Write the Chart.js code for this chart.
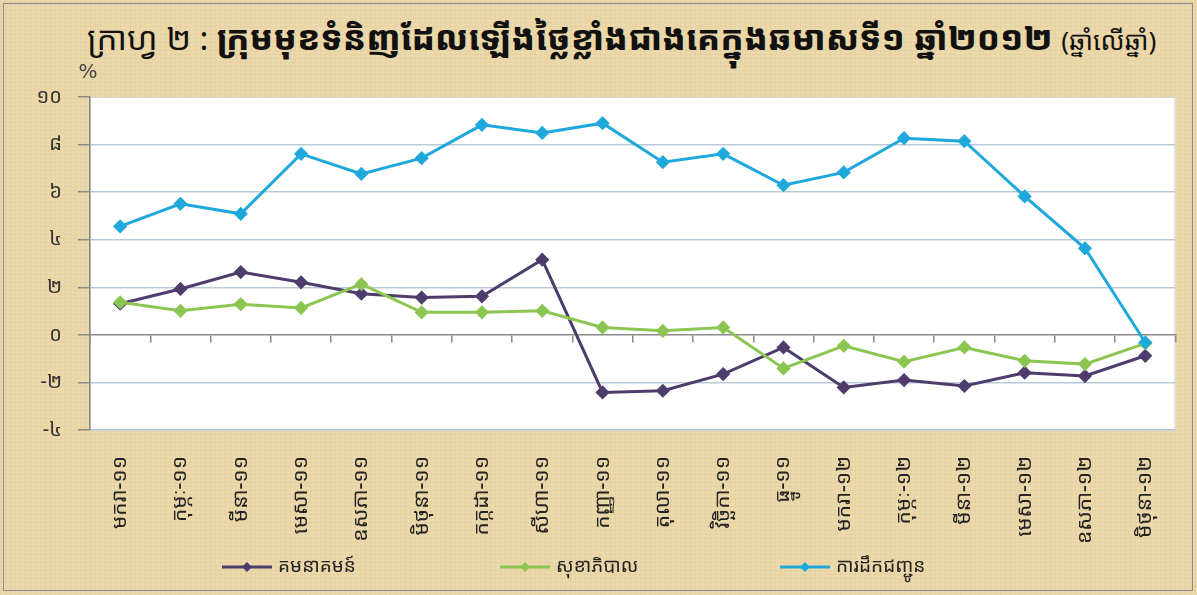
<!DOCTYPE html>
<html>
<head>
<meta charset="utf-8">
<script src="https://cdn.jsdelivr.net/npm/chart.js@4.4.1/dist/chart.umd.min.js"></script>
<style>
  html, body { margin: 0; padding: 0; }
  body {
    width: 1197px; height: 595px; overflow: hidden; position: relative;
    background-color: #ecd9ab;
    background-image:
      repeating-linear-gradient(0deg, rgba(160,120,50,0.07) 0px, rgba(160,120,50,0.07) 1px, transparent 1px, transparent 4px),
      repeating-linear-gradient(90deg, rgba(160,120,50,0.06) 0px, rgba(160,120,50,0.06) 1px, transparent 1px, transparent 5px);
  }
  #frame {
    position: absolute; left: 3px; top: 3px; width: 1190px; height: 588px;
    border: 1px solid #8d8d8d; box-sizing: border-box;
  }
  #title {
    position: absolute; left: 87px; top: 14px; white-space: nowrap;
    font-family: "Noto Sans Khmer", "Khmer OS", "Noto Sans", sans-serif;
    font-size: 33px; color: #111;
  }
  #title b { font-weight: 800; font-size: 34px; }
  #title .s { font-size: 26px; }
  canvas { position: absolute; left: 0; top: 0; }
</style>
</head>
<body>
<div id="frame"></div>
<div id="title">ក្រាហ្វ ២ : <b>ក្រុមមុខទំនិញដែលឡើងថ្លៃខ្លាំងជាងគេក្នុងឆមាសទី១ ឆ្នាំ២០១២</b> <span class="s">(ឆ្នាំលើឆ្នាំ)</span></div>
<canvas id="lineChart" width="1197" height="595"></canvas>
<script>
const KHMER_FONT = '"Noto Sans Khmer", "Khmer OS", "Noto Sans", sans-serif';

const months = [
  'មករា-១១', 'កុម្ភៈ-១១', 'មីនា-១១', 'មេសា-១១', 'ឧសភា-១១', 'មិថុនា-១១',
  'កក្កដា-១១', 'សីហា-១១', 'កញ្ញា-១១', 'តុលា-១១', 'វិច្ឆិកា-១១', 'ធ្នូ-១១',
  'មករា-១២', 'កុម្ភៈ-១២', 'មីនា-១២', 'មេសា-១២', 'ឧសភា-១២', 'មិថុនា-១២'
];

const series_names = ['គមនាគមន៍', 'សុខាភិបាល', 'ការដឹកជញ្ជូន'];

const communication = [1.31, 1.93, 2.64, 2.21, 1.73, 1.57, 1.62, 3.16, -2.42,
  -2.35, -1.65, -0.53, -2.21, -1.90, -2.15, -1.59, -1.73, -0.88];
const health = [1.37, 1.01, 1.29, 1.13, 2.13, 0.95, 0.95, 1.01, 0.31,
  0.17, 0.31, -1.41, -0.46, -1.13, -0.53, -1.09, -1.23, -0.36];
const transport = [4.56, 5.51, 5.09, 7.61, 6.77, 7.43, 8.83, 8.49, 8.90,
  7.26, 7.61, 6.29, 6.83, 8.27, 8.14, 5.82, 3.64, -0.32];

const y_min = -4;
const y_max = 10;
const y_step = 2;

const colors = ['#4d3c6c', '#8cc652', '#1ea8dc'];

function khmer_digits(v) {
  return String(v).replace(/[0-9]/g, d => '០១២៣៤៥៦៧៨៩'[d]);
}

function make_dataset(label, data, color, order) {
  return {
    label: label,
    data: data,
    borderColor: color,
    backgroundColor: color,
    borderWidth: 3,
    pointStyle: 'rectRot',
    pointRadius: 5,
    pointHoverRadius: 5,
    tension: 0,
    fill: false,
    order: order
  };
}

// white plot area and its frame
const plotBackground = {
  id: 'plotBackground',
  beforeDraw(chart) {
    const { ctx, chartArea: a } = chart;
    ctx.save();
    ctx.fillStyle = '#ffffff';
    ctx.fillRect(a.left, a.top, a.right - a.left, a.bottom - a.top);
    ctx.strokeStyle = '#d4d4d4';
    ctx.lineWidth = 1;
    ctx.strokeRect(a.left + 0.5, a.top + 0.5, a.right - a.left - 1, a.bottom - a.top);
    ctx.restore();
  }
};

// "%" unit and the line+diamond legend under the chart
const extras = {
  id: 'extras',
  afterDraw(chart) {
    const { ctx, chartArea: a } = chart;
    ctx.save();
    ctx.fillStyle = '#444';
    ctx.font = '20px "DejaVu Sans", sans-serif';
    ctx.textAlign = 'center';
    ctx.textBaseline = 'middle';
    ctx.fillText('%', a.left - 2, a.top - 24);

    const starts = [222, 500, 780];
    const y = 567;
    chart.data.datasets.forEach((ds, i) => {
      const x = starts[i];
      ctx.strokeStyle = ds.borderColor;
      ctx.lineWidth = 3;
      ctx.beginPath();
      ctx.moveTo(x, y);
      ctx.lineTo(x + 50, y);
      ctx.stroke();
      ctx.fillStyle = ds.borderColor;
      ctx.beginPath();
      ctx.moveTo(x + 25, y - 5);
      ctx.lineTo(x + 30, y);
      ctx.lineTo(x + 25, y + 5);
      ctx.lineTo(x + 20, y);
      ctx.closePath();
      ctx.fill();
      ctx.fillStyle = '#222';
      ctx.font = '19px ' + KHMER_FONT;
      ctx.textAlign = 'left';
      ctx.fillText(ds.label, x + 56, y);
    });
    ctx.restore();
  }
};

const chart_config = {
  type: 'line',
  data: {
    labels: months,
    datasets: [
      make_dataset(series_names[0], communication, colors[0], 2),
      make_dataset(series_names[1], health, colors[1], 1),
      make_dataset(series_names[2], transport, colors[2], 0)
    ]
  },
  options: {
    responsive: false,
    animation: false,
    layout: { padding: { top: 97, right: 19, bottom: 0, left: 0 } },
    plugins: {
      legend: { display: false },
      tooltip: { enabled: false },
      title: { display: false }
    },
    scales: {
      x: {
        type: 'category',
        offset: true,
        grid: { display: false, drawTicks: false },
        border: { display: false },
        ticks: {
          minRotation: 90, maxRotation: 90, padding: 26,
          color: '#222',
          font: { family: KHMER_FONT, size: 21 }
        },
        afterFit: s => { s.height = 165; }
      },
      x2: {
        type: 'category',
        labels: months,
        position: { y: 0 },
        offset: true,
        grid: { offset: true, drawOnChartArea: false, tickLength: 7, color: '#8a8a8a', lineWidth: 1.5 },
        border: { color: '#8a8a8a', width: 1.5 },
        ticks: { display: false },
        afterFit: s => { s.height = 0; }
      },
      y: {
        min: y_min,
        max: y_max,
        ticks: {
          stepSize: y_step,
          padding: 16,
          color: '#333',
          font: { family: KHMER_FONT, size: 20 },
          callback: v => khmer_digits(v)
        },
        grid: {
          tickLength: 12,
          color: c => (c.tick && (c.tick.value === 0 || c.tick.value === y_max)) ? 'rgba(0,0,0,0)' : '#b9c9d9',
          tickColor: '#8a8a8a',
          lineWidth: 1.5
        },
        border: { color: '#8a8a8a', width: 1.5 },
        afterFit: s => { s.width = 90; }
      }
    }
  },
  plugins: [plotBackground, extras]
};

const lineChart = new Chart(document.getElementById('lineChart'), chart_config);
</script>
</body>
</html>
